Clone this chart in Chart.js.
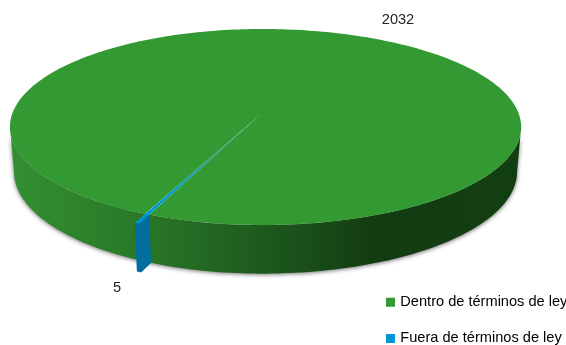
<!DOCTYPE html>
<html>
<head>
<meta charset="utf-8">
<style>
    html, body { margin: 0; padding: 0; background: #fff; overflow: hidden; }
    #wrap { position: relative; width: 566px; height: 345px; }
</style>
<script src="https://cdn.jsdelivr.net/npm/chart.js@4/dist/chart.umd.min.js"></script>
</head>
<body>
<div id="wrap"><canvas id="pieChart" width="566" height="345"></canvas></div>
<script>
const categories = ['Dentro de términos de ley', 'Fuera de términos de ley'];
const values = [2032, 5];
const topColors = ['#339933', '#0098d4'];
const faceColor = '#006f9f';

// view of the tilted disc
const K = 1 / 7;
const TOP = { x: 262, y: 113, left: 249.5, right: 256.5, b: 96 };
const BOTTOM = { x: 262, y: 157, left: 245.5, right: 252.5, b: 100 };
const EXPLODE = [1, 1.077];

function project(disc, angle, r) {
    const u = Math.cos(angle) * r;
    const v = Math.sin(angle) * r;
    const w = 1 - K * v;
    const a = u < 0 ? disc.left : disc.right;
    return { x: disc.x + a * u / w, y: disc.y + disc.b * v / w };
}

function rimPath(ctx, disc, from, to, r, move) {
    const steps = Math.max(2, Math.ceil(Math.abs(to - from) / 0.02));
    for (let i = 0; i <= steps; i++) {
        const p = project(disc, from + (to - from) * i / steps, r);
        if (i === 0 && move) ctx.moveTo(p.x, p.y);
        else ctx.lineTo(p.x, p.y);
    }
}

const pie3d = {
    id: 'pie3d',
    afterLayout(chart) {
        // legend sits low on the right and runs off the edge
        const legend = chart.legend;
        legend.left = 366.5;
        legend.top = 273.5;
        legend.right = 640;
        legend.bottom = 420;
        legend.adjustHitBoxes();
    },
    beforeDatasetDraw(chart, args) {
        const ctx = chart.ctx;
        const arcs = chart.getDatasetMeta(args.index).data;
        // wall silhouette runs between the widest points of the two discs
        const back = Math.asin(K);
        const front = Math.PI - back;

        // side wall
        const wall = ctx.createLinearGradient(10, 0, 520, 0);
        wall.addColorStop(0, '#338f32');
        wall.addColorStop(0.24, '#2a7a28');
        wall.addColorStop(0.5, '#1d591d');
        wall.addColorStop(0.72, '#123c12');
        wall.addColorStop(1, '#123f12');
        ctx.save();
        ctx.shadowColor = 'rgba(0,0,0,0.55)';
        ctx.shadowBlur = 4;
        ctx.shadowOffsetY = 1;
        ctx.fillStyle = wall;
        ctx.beginPath();
        rimPath(ctx, TOP, back, front, 1, true);
        rimPath(ctx, BOTTOM, front, back, 1, false);
        ctx.closePath();
        ctx.fill();
        ctx.restore();

        // top faces, large slice first
        arcs.forEach((arc, i) => {
            const r = EXPLODE[i];
            let fill = topColors[i];
            if (i === 1) {
                // thin wedge melts into the green towards the centre
                const end = project(TOP, arc.endAngle, r);
                fill = ctx.createLinearGradient(TOP.x, TOP.y, end.x, end.y);
                fill.addColorStop(0, topColors[0]);
                fill.addColorStop(0.4, '#1c9a84');
                fill.addColorStop(0.75, topColors[1]);
            }
            ctx.fillStyle = fill;
            ctx.beginPath();
            ctx.moveTo(TOP.x, TOP.y);
            rimPath(ctx, TOP, arc.startAngle, arc.endAngle, r, false);
            ctx.closePath();
            ctx.fill();
        });

        // pulled out slice: cut face and outer wall
        const small = arcs[1];
        ctx.fillStyle = faceColor;
        ctx.beginPath();
        rimPath(ctx, TOP, small.startAngle, small.startAngle, 1, true);
        rimPath(ctx, TOP, small.startAngle, small.endAngle, EXPLODE[1], false);
        rimPath(ctx, BOTTOM, small.endAngle, small.startAngle, EXPLODE[1], false);
        rimPath(ctx, BOTTOM, small.startAngle, small.startAngle, 1, false);
        ctx.closePath();
        ctx.fill();

        return false;
    },
    afterDatasetsDraw(chart) {
        // value labels
        const ctx = chart.ctx;
        ctx.save();
        ctx.fillStyle = '#222';
        ctx.font = '14.6px "Liberation Sans", Arial, sans-serif';
        ctx.textAlign = 'center';
        ctx.textBaseline = 'middle';
        ctx.fillText(String(values[0]), 398, 20);
        ctx.fillText(String(values[1]), 117, 288);
        ctx.restore();
    }
};

new Chart(document.getElementById('pieChart'), {
    type: 'pie',
    data: {
        labels: categories,
        datasets: [{ data: values, backgroundColor: topColors, borderWidth: 0 }]
    },
    options: {
        responsive: false,
        animation: false,
        rotation: 204,
        layout: { padding: 0 },
        plugins: {
            tooltip: { enabled: false },
            legend: {
                position: 'right',
                align: 'start',
                maxWidth: 300,
                labels: {
                    color: '#222',
                    font: { family: '"Liberation Sans", Arial, sans-serif', size: 14.6 },
                    boxWidth: 5,
                    boxHeight: 5,
                    padding: 21.5,
                    // small box plus a thick same colour outline keeps the text close to it
                    generateLabels: () => categories.map((text, i) => ({
                        text,
                        fillStyle: topColors[i],
                        strokeStyle: topColors[i],
                        lineWidth: 4,
                        index: i
                    }))
                }
            }
        }
    },
    plugins: [pie3d]
});
</script>
</body>
</html>
